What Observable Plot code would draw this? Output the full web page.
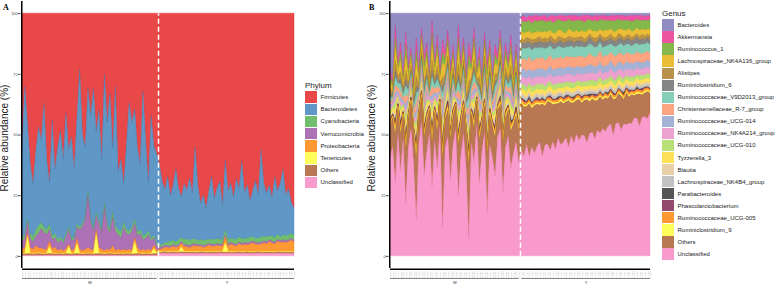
<!DOCTYPE html>
<html><head><meta charset="utf-8">
<script src="https://cdn.jsdelivr.net/npm/d3@7"></script>
<script src="https://cdn.jsdelivr.net/npm/@observablehq/plot@0.6"></script>
<style>
body{margin:0;background:#fff;font-family:"Liberation Sans",Arial,sans-serif;}
#wrap{position:relative;width:778px;height:285px;overflow:hidden;background:#fff;}
.abs{position:absolute;top:0;}
.ytitle{position:absolute;width:130px;text-align:center;line-height:10px;transform:rotate(-90deg);white-space:nowrap;font-size:10px;color:#1a1a1a;}
.plabel{position:absolute;font-family:"Liberation Serif","DejaVu Serif",serif;font-weight:bold;font-size:8px;line-height:9px;color:#000;}
.legend{position:absolute;}
.legend .ttl{font-size:8px;line-height:11px;color:#1a1a1a;}
.row{display:flex;align-items:center;}
.sw{width:12px;height:11.4px;margin-right:3.5px;flex:none;}
.lab{font-size:6px;color:#1a1a1a;white-space:nowrap;}
</style></head>
<body><div id="wrap"></div>
<script>
// ---------- Panel A: Phylum ----------
const phyla = ["Firmicutes","Bacteroidetes","Cyanobacteria","Verrucomicrobia","Proteobacteria","Tenericutes","Others","Unclassified"];
const phylaColors = ["#E41A1C","#377EB8","#4DAF4A","#984EA3","#FF7F00","#FFFF33","#A65628","#F781BF"];

const firmicutes = [55,30,45,62,70,58,47,52,37,60, 70,44,65,55,48,60,41,56,51,64, 43,23,50,55,31,42,31,48,40,60, 25,45,33,56,30,65,60,70,54,37, 45,39,55,62,32,52,70,42,55,58,
  62,69,73,67,75,71,64,72,76,70, 73,68,74,55,71,78,75,80,73,67, 76,72,69,75,63,73,70,76,68,72, 61,74,71,77,73,69,75,56,70,74, 71,76,67,73,70,64,75,72,78,80];
const bacteroidetes = [38,61,39,29,22,33,41,34,51,29, 17,48,27,38,44,34,50,32,42,28, 44,65,37,29,43,43,58,33,46,29, 53,42,56,27,58,24,30,16,35,53, 43,45,35,27,60,39,20,51,37,37,
  33,26,22,27,19,23,30,21,17,23, 20,26,19,38,23,15,19,13,20,26, 17,21,24,14,30,20,23,17,25,20, 32,19,22,15,19,24,18,36,22,18, 21,16,25,18,22,27,17,19,13,11];
const cyanobacteria = [1.5,1.5,1,2,2,2.5,3,2.5,2,2, 2,1.5,1.5,1.5,1,1,1,1,1,1, 1,1,1,1,1,1,1,1,1,1, 1.5,1.5,1.5,2,2,2,2.5,2,1.5,1.5, 1.5,1.5,1.5,1.5,1.5,1.5,1.5,1,1,1,
  1,1,1,1.5,2,1.5,1.5,2,1.5,2, 2.5,2,2,2,1.5,2,2,2,1.5,2, 2,2,2,1.5,2,2,1.5,2,2,2, 2,1.5,2,2,2,1.5,2,2,2,2, 1.5,2,2,2,1.5,2,2,2,2,2];
const verrucomicrobia = [3,4,5,4,3,4,6,8,7,6, 5,4,4,3,4,3,5,6,4,4, 5,8,10,12,22,11,8,6,10,7, 18,9,7,12,8,6,5,9,7,6, 8,6,5,7,4,5,6,4,3,2,
  1,.8,.8,.8,.7,.8,.9,.8,.8,.7, .8,.8,.9,.8,.8,.7,.8,.8,.8,.9, .8,.7,.8,.8,.8,.9,.8,.8,.7,.8, .8,.8,.9,.8,.7,.8,.8,.8,.8,.9, .8,.8,.7,.8,.8,.8,.9,.8,.8,.7];
const proteobacteria = [1.5,2,1,2,1.5,3,2,2,1.5,1.5, 2,1.5,2.5,1,1.5,1,1.5,1,1,1.5, 2,1.5,1,1.5,2,1.5,1,1.5,2,1.5, 1,1.5,1,3,1,1.5,1,1.5,1,1.5, 1,1.5,2,1,1.5,1,1.5,1,1.5,1,
  1,1,1.5,1.5,1.5,2,1.5,2,1.5,2, 2,1.5,2,2.5,2,2,1.5,2,2.5,2, 2,2.5,2,2,2.5,2,3,2.5,2,3, 2.5,3,2.5,3,3.5,3,2.5,3,3.5,3, 4,3.5,3,4,3.5,4,3.5,4,4.5,4];
const tenericutes = [.3,.3,7,.3,.3,.3,.3,.3,.3,.3, 3,.3,.3,.3,.3,.3,.3,3,.3,.3, 4,.3,.3,.3,.3,.3,.3,8,.3,.3, .3,.3,.3,.3,.3,.3,.3,.3,.3,.3, .3,5,.3,.3,.3,.3,.3,.3,2,.3,
  .3,.3,.3,.3,.3,.3,.3,.3,2,.3, .3,.3,.3,.3,.3,.3,.3,.3,.3,.3, .3,.3,.3,.3,4,.3,.3,.3,.3,.3, .3,.3,.3,.3,.3,.3,.3,.3,.3,.3, .3,.3,.3,.3,.3,.3,.3,.3,.3,.3];
const othersA = [.6,.5,.7,.6,.5,.6,.7,.6,.5,.6, .7,.6,.5,.6,.6,.5,.7,.6,.5,.6, .7,.6,.5,.6,.7,.6,.5,.6,.7,.6, .5,.6,.7,.6,.5,.6,.6,.5,.7,.6, .5,.6,.7,.6,.5,.6,.6,.5,.7,.6,
  .5,.5,.6,.5,.5,.6,.5,.5,.5,.6, .5,.5,.6,.5,.5,.5,.6,.5,.5,.5, .6,.5,.5,.5,.6,.5,.5,.5,.6,.5, .5,.5,.6,.5,.5,.5,.6,.5,.5,.5, .6,.5,.5,.5,.6,.5,.5,.5,.6,.5];
const unclassifiedA = [.3,.3,.3,.3,.3,.3,.3,.3,.3,.3, .3,.3,.3,.3,.3,.3,.3,.3,.3,.3, .3,.3,.3,.3,.3,.3,.3,.3,.3,.3, .3,.3,.3,.3,.3,.3,.3,.3,.3,.3, .3,.3,.3,.3,.3,.3,.3,.3,.3,.3,
  1,1,1.2,1,1,1.1,1,1,1.2,1, 1,1.1,1,1,1,1.2,1,1,1.1,1, 1,1,1.2,1,1,1.1,1,1,1,1.2, 1,1,1.1,1,1,1,1.2,1,1,1.1, 1,1,1,1.2,1,1,1.1,1,1,1];

// ---------- Panel B: Genus ----------
const genera = ["Bacteroides","Akkermansia","Ruminococcus_1","Lachnospiraceae_NK4A136_group","Alistipes","Ruminiclostridium_6","Ruminococcaceae_V9D2013_group","Christensenellaceae_R-7_group","Ruminococcaceae_UCG-014","Ruminococcaceae_NK4A214_group","Ruminococcaceae_UCG-010","Tyzzerella_3","Blautia","Lachnospiraceae_NK4B4_group","Parabacteroides","Phascolarctobacterium","Ruminococcaceae_UCG-005","Ruminiclostridium_9","Others","Unclassified"];
const generaColors = ["#7570B3","#E7298A","#66A61E","#E6AB02","#A6761D","#666666","#66C2A5","#FC8D62","#8DA0CB","#E78AC3","#A6D854","#FFD92F","#E5C494","#B3B3B3","#2B2B2B","#7A1E48","#FF7F00","#FFFF33","#A65628","#F781BF"];

const bacteroides = [23,28,5,20,12,26,8,22,14,30, 10,24,6,18,12,27,3,20,9,25, 11,16,7,23,13,28,5,21,10,26, 12,19,6,24,14,28,8,21,11,26, 13,17,7,24,12,20,9,25,13,27,
  1.5,1,2,1,1.5,1,1,1.5,1,1, 2,1,1,1.5,1,1,1,1.5,1,1, 1,1,1.5,1,1,1,1,1.5,1,1, 1,1,1,1.5,1,1,1,1,1,1, 1.5,1,1,1,1,1,1,1.5,1,1];
const akkermansia = [2.5,1.5,5,2,4,1.5,5,2,2.5,2, 5,2,3,3.5,3,1.5,5,2,4,1, 5,3,3.5,3,3,1,5,2.5,3,2.5, 5,2.5,4,1,4,2,3,4,3,2, 4,2.5,3,3,3,2,4,2,3,2,
  2,2.5,1.5,2,3,2,2.5,1.5,2,2.5, 1.5,2,3,2,1.5,2,2.5,2,1.5,2, 2.5,2,1.5,2,3,2,1.5,2,2,2.5, 1.5,2,2,1.5,2,2.5,2,1.5,2,2, 1.5,2,2.5,2,1.5,2,2,1.5,2,1.5];
const ruminococcus1 = [2,1.5,4,1.5,3.5,1.5,4.5,2,2,1.5, 4.5,1.5,2.5,3,3,1,4.5,2,3.5,1, 4.5,2.5,3,2.5,2.5,1,4.5,2,2.5,2, 4.5,2,4,1,3.5,1.5,3,3.5,3,2, 3.5,2,3,2.5,3,2,3.5,2,2.5,2,
  4,5,4,4.5,4,5,4,4.5,5,4, 4.5,4,4,5,4.5,4,4.5,5,4,4, 4.5,4,5,4,4,4.5,4,4,4.5,4, 4,4.5,4,4,3.5,4,4.5,4,3.5,4, 4,3.5,4,4,3.5,4,3.5,4,3.5,4];
const lachnoNK4A136 = [3,2,5.5,2.5,4.5,2,6,2.5,3,2.5, 6,2,3.5,4,4,1.5,6,2.5,5,1.5, 6,3.5,4,3.5,3.5,1,6,3,3.5,3, 6,3,5,1.5,4.5,2,3.5,4.5,4,2.5, 4.5,3,3.5,3.5,4,2.5,5,2.5,3.5,2.5,
  2.5,3,2,3,2.5,3,2.5,2,3,2.5, 3,2.5,2,3,2.5,3,2.5,2,3,2.5, 2.5,3,2,2.5,3,2.5,2,2.5,3,2.5, 2,2.5,3,2.5,2,2.5,2.5,2,2.5,3, 2,2.5,2.5,2,2.5,2.5,2,2.5,2,2.5];
const alistipes = [2.5,1,4,2,3,1.5,4,2,2,2, 4.5,1.5,2.5,3,3,1,4.5,2,3.5,1, 4,2.5,3,2.5,3,1,4.5,2,2.5,2, 4.5,2,3.5,1,3.5,1.5,3,3.5,3,2, 3.5,2,3,2.5,3,2,3.5,2,2.5,2,
  2,1.5,2,1.5,2,1.5,2,2,1.5,2, 1.5,2,2,1.5,2,1.5,2,1.5,2,1.5, 2,1.5,1.5,2,1.5,2,1.5,1.5,2,1.5, 1.5,2,1.5,1.5,2,1.5,1.5,2,1.5,1.5, 1.5,2,1.5,1.5,1.5,1.5,2,1.5,1.5,1.5];
const ruminiclost6 = [1,1,2.5,1,2,1,2.5,1,1,1, 2.5,1,1.5,1.5,1.5,.5,2.5,1,2,.5, 2.5,1.5,1.5,1.5,1.5,.5,2.5,1,1.5,1, 2.5,1,2,.5,2,1,1.5,2,1.5,1, 2,1,1.5,1.5,1.5,1,2,1,1.5,1,
  2.5,2,2.5,2,2.5,2,2,2.5,2,2.5, 2,2,2.5,2,2,2.5,2,2,2.5,2, 2,2,2.5,2,2,2,2.5,2,2,2, 2,2.5,2,2,2,2,2,2.5,2,2, 2,2,2,2,2.5,2,2,2,2,2];
const v9d2013 = [2,1,3.5,1.5,3,1.5,4,2,2,1.5, 4,1.5,2.5,2.5,2.5,1,4,1.5,3,1, 4,2,2.5,2.5,2.5,1,4,2,2.5,2, 4,2,3.5,1,3,1.5,2.5,3,2.5,1.5, 3,2,2.5,2.5,2.5,1.5,3,1.5,2.5,2,
  4.5,4,5,4,4.5,5,4,4.5,4,5, 4.5,4,4.5,4,5,4,4.5,4,4,4.5, 4,4.5,4,4,4.5,4,4,4.5,4,4, 3.5,4,4,4,3.5,4,4,3.5,4,4, 3.5,4,3.5,4,3.5,3.5,4,3.5,3.5,3.5];
const christensenR7 = [1.5,1,3,1.5,2.5,1,3.5,1.5,1.5,1.5, 3.5,1.5,2,2.5,2.5,1,3.5,1.5,3,1, 3.5,2,2.5,2,2,.5,3.5,2,2,1.5, 3.5,1.5,3,1,2.5,1,2,2.5,2,1.5, 2.5,1.5,2,2,2,1.5,3,1.5,2,1.5,
  4,4.5,4,5,4,4.5,4.5,4,5,4, 4.5,4.5,4,4.5,4,4.5,4,4.5,4,4, 4.5,4,4,4.5,4,4,4.5,4,4,4, 4.5,4,4,4,3.5,4,4,3.5,4,4, 3.5,4,3.5,3.5,4,3.5,3.5,4,3.5,3.5];
const ucg014 = [1,.5,2,1,2,1,2.5,1,1,1, 2.5,1,1.5,1.5,1.5,.5,2.5,1,2,.5, 2.5,1.5,1.5,1.5,1.5,.5,2.5,1.5,1.5,1, 2.5,1,2,.5,2,1,1.5,2,1.5,1, 2,1,1.5,1.5,1.5,1,2,1,1.5,1,
  3,3.5,3,3,3.5,3,3,3.5,3,3, 3,3.5,3,3,3,3.5,3,3,3,3, 3.5,3,3,3,3,3,3.5,3,3,3, 3,3,2.5,3,3,3,2.5,3,3,2.5, 3,3,2.5,3,2.5,3,2.5,2.5,3,2.5];
const nk4a214 = [1.5,1,2,1,2,.5,2.5,1,1,1, 2.5,1,1.5,1.5,2,.5,2.5,1,2,.5, 2.5,1.5,1.5,1.5,1.5,.5,2.5,1,1.5,1, 2.5,1,2,.5,2,1,1.5,2,1.5,1, 2,1,1.5,1.5,1.5,1,2,1,1.5,1,
  3,3,3.5,3,3,3.5,3,3,3,3.5, 3,3,3,3.5,3,3,3,3,3.5,3, 3,3,3,3,3,3.5,3,3,3,3, 3,3,3,2.5,3,3,3,2.5,3,3, 2.5,3,3,2.5,3,2.5,2.5,3,2.5,2.5];
const ucg010 = [1,1,2.5,1,2,1,2.5,1,1.5,1, 2.5,1,1.5,2,1.5,.5,2.5,1,2,.5, 2.5,1.5,2,1.5,1.5,.5,2.5,1,1.5,1, 2.5,1,2,.5,2,1,1.5,2,1.5,1, 2,1,1.5,1.5,1.5,1,2,1,1.5,1,
  2,2.5,2,2,2.5,2,2,2,2.5,2, 2,2,2,2.5,2,2,2,2,2,2.5, 2,2,2,2,2,2,2,2.5,2,2, 2,2,2,2,2,2,2,2,2,2, 1.5,2,2,2,1.5,2,2,1.5,2,2];
const tyzzerella3 = [1.5,1,2.5,1,2.5,1,3,1.5,1.5,1, 3,1,2,2,2,1,3,1.5,2.5,1, 3,1.5,2,2,2,.5,3,1.5,2,1.5, 3,1.5,2.5,1,2.5,1,2,2,2,1.5, 2.5,1.5,2,2,2,1,2.5,1.5,2,1.5,
  1.5,2,1.5,1.5,2,1.5,1.5,2,1.5,1.5, 1.5,2,1.5,1.5,1.5,1.5,2,1.5,1.5,1.5, 1.5,1.5,1.5,2,1.5,1.5,1.5,1.5,1.5,1.5, 2,1.5,1.5,1.5,1.5,1.5,1.5,1.5,1.5,1.5, 1.5,1.5,1.5,1.5,1.5,1.5,1.5,1.5,1.5,1.5];
const blautia = [.7,.5,1.4,.6,1.1,.5,1.4,.7,.7,.6, 1.5,.5,.9,1,1,.4,1.5,.6,1.2,.4, 1.5,.8,1,.9,.9,.3,1.5,.8,.9,.7, 1.5,.7,1.3,.4,1.1,.5,.9,1.1,1,.6, 1.1,.7,.9,.9,1,.6,1.2,.6,.9,.7,
  1,1.2,.9,1,1.1,1,.9,1.2,1,1, 1.1,.9,1,1.2,1,.9,1,1.1,1,1, .9,1.1,1,1,1.2,1,.9,1,1,1.1, 1,1,.9,1,1.1,1,1,.9,1,1, 1.1,1,.9,1,1,1,.9,1,1,1];
const nk4b4 = [.7,.4,1.3,.6,1.2,.5,1.5,.6,.7,.6, 1.4,.6,.9,1,1,.4,1.6,.7,1.2,.4, 1.4,.8,1,.9,.9,.3,1.5,.7,.9,.7, 1.6,.7,1.3,.4,1.1,.5,.9,1.1,1,.6, 1.2,.7,.9,.9,1,.6,1.2,.6,.9,.7,
  1,.9,1.1,1,1,1.2,1,.9,1,1.1, 1,1,1.2,.9,1,1,1.1,1,.9,1, 1,1,1.1,.9,1,1,1.1,1,.9,1, 1,1.1,1,.9,1,1,1,1.1,.9,1, 1,1,1,.9,1,1,1,.9,1,1];
const parabacteroides = [.2,.2,1.5,.2,.2,.2,1.8,.2,.2,.2, .2,.2,.2,1.2,.2,.2,1.5,.2,.2,.2, 2,.2,.2,.2,.2,.2,1.5,.2,.2,.2, .2,.2,1.5,.2,.2,.2,.2,1.8,.2,.2, .2,.2,1.2,.2,.2,.2,1.5,.2,.2,.2,
  .2,.2,.2,1,.2,.2,.2,.2,.8,.2, .2,.2,.2,.2,1,.2,.2,.2,.2,.2, .8,.2,.2,.2,.2,.2,1,.2,.2,.2, .2,.2,.2,.8,.2,.2,.2,.2,.2,1, .2,.2,.2,.2,.8,.2,.2,.2,.2,.2];
const phascolarcto = [.2,.2,.2,.2,1.5,.2,.2,.2,.2,.2, 1.8,.2,.2,.2,.2,.2,.2,.2,1.5,.2, .2,.2,1.2,.2,.2,.2,.2,.2,.2,.2, 2,.2,.2,.2,1.5,.2,.2,.2,.2,.2, 1.5,.2,.2,.2,.2,.2,.2,.2,1.2,.2,
  .2,.8,.2,.2,.2,.2,1,.2,.2,.2, .2,.8,.2,.2,.2,.2,.2,1,.2,.2, .2,.2,.2,.8,.2,.2,.2,.2,1,.2, .2,.2,.2,.2,.2,.8,.2,.2,.2,.2, .2,1,.2,.2,.2,.2,.8,.2,.2,.2];
const ucg005 = [1,.6,1.8,.8,1.5,.6,1.9,.9,.9,.8, 2,.7,1.2,1.3,1.3,.5,2,.8,1.6,.5, 2,1.1,1.3,1.2,1.2,.4,2,1,1.2,1, 2,.9,1.7,.5,1.5,.7,1.2,1.5,1.3,.8, 1.5,1,1.2,1.2,1.3,.8,1.6,.8,1.2,.9,
  1,1.3,.9,1.1,1,1.4,.9,1,1.2,1, .9,1.3,1,1,1.1,.9,1.2,1,1,1.3, .9,1,1.1,1,1.2,.9,1,1.1,1,1, 1.3,.9,1,1,1.2,1,.9,1.1,1,1, 1.2,1,.9,1,1.1,1,1,1.2,.9,1];
const ruminiclost9 = [.7,.5,1.4,.6,1.1,.5,1.4,.7,.7,.6, 1.5,.5,.9,1,1,.4,1.5,.6,1.2,.4, 1.5,.8,1,.9,.9,.3,1.5,.8,.9,.7, 1.5,.7,1.3,.4,1.1,.5,.9,1.1,1,.6, 1.1,.7,.9,.9,1,.6,1.2,.6,.9,.7,
  .6,.8,.5,.6,.9,.5,.6,.7,.5,.8, .6,.5,.7,.6,.5,.9,.6,.5,.7,.6, .5,.8,.6,.5,.7,.6,.9,.5,.6,.7, .5,.6,.8,.5,.6,.7,.5,.6,.8,.6, .5,.7,.6,.5,.8,.6,.5,.7,.6,.5];
const othersB = [13,12,20,11,15,10,22,12,11,13, 25,12,10,16,13,10,18,12,15,10, 28,12,11,17,12,10,20,13,11,15, 30,12,14,10,18,12,11,24,12,13, 16,11,10,20,12,11,15,12,11,13,
  19,21,15,22,16,20,17,15,22,16, 18,20,15,19,14,18,16,15,19,13, 17,14,17,13,15,18,13,14,16,12, 15,12,14,11,12,15,10,12,14,10, 13,11,12,9,10,13,9,10,11,8];
const unclassifiedB = [40,45,30,50,35,48,22,44,52,38, 15,46,55,33,42,50,28,47,36,53, 12,44,49,31,45,52,25,41,50,35, 7,46,38,54,30,43,50,18,45,40, 33,48,52,26,44,49,36,42,47,38,
  43,42,44,41,45,43,44,46,42,45, 47,44,46,45,48,46,47,49,45,48, 47,50,48,49,51,47,50,52,49,51, 50,53,51,52,54,50,53,55,52,54, 53,56,54,55,57,53,56,58,56,57];

const groupLabels = ["W","Y"];
const groupSizes = [50, 50];

const seriesA = [firmicutes,bacteroidetes,cyanobacteria,verrucomicrobia,proteobacteria,tenericutes,othersA,unclassifiedA];
const seriesB = [bacteroides,akkermansia,ruminococcus1,lachnoNK4A136,alistipes,ruminiclost6,v9d2013,christensenR7,ucg014,nk4a214,ucg010,tyzzerella3,blautia,nk4b4,parabacteroides,phascolarcto,ucg005,ruminiclost9,othersB,unclassifiedB];

const sampleNames = [];
groupLabels.forEach((g,k)=>{for(let j=1;j<=groupSizes[k];j++) sampleNames.push(g+"_"+String(j).padStart(3,"0"));});

function panel(taxa, colors, series, opts){
  const n = sampleNames.length;
  const bad = series.map((s,k)=>s.length!==n?taxa[k]+":"+s.length:null).filter(Boolean);
  if (bad.length) { const d=document.createElement("div"); d.textContent="LEN "+bad.join(","); return d; }
  const data = [];
  taxa.forEach((t,k)=>series[k].forEach((v,i)=>data.push({i, taxon:t, v})));
  const order = taxa.slice().reverse();
  const groups = []; let s = 0;
  groupLabels.forEach((g,k)=>{groups.push({g, start:s, end:s+groupSizes[k]-1}); s+=groupSizes[k];});
  const ymin = -0.05;
  return Plot.plot({
    width: opts.width, height: 285,
    marginLeft: opts.marginLeft, marginRight: opts.marginRight, marginTop: 1, marginBottom: 17,
    style: {fontFamily: "Liberation Sans, Arial, sans-serif", background: "transparent", overflow: "visible"},
    x: {domain: [0, n-1], axis: null},
    y: {domain: [ymin, 1.05], axis: null},
    color: {domain: taxa, range: colors},
    marks: [
      Plot.areaY(data, {x: "i", y: "v", z: "taxon", fill: "taxon", stroke: "taxon", order, offset: "normalize",
        fillOpacity: 0.8, strokeOpacity: 0.55, strokeWidth: 0.6}),
      Plot.ruleX([groupSizes[0] - 0.5], {y1: 0, y2: 1, stroke: "white", strokeWidth: 1.5, strokeDasharray: "5,3"}),
      Plot.ruleX([0], {stroke: "black", strokeWidth: 1.5, dx: -0.75}),
      Plot.ruleY([ymin], {stroke: "black", strokeWidth: 1.5, dy: 0.75}),
      Plot.axisY({ticks: [0, .25, .5, .75, 1], tickFormat: d => Math.round(d*100), tickSize: 2.5, tickPadding: 1,
        fontSize: 3.8, dx: -1.5, color: "#444", label: null}),
      Plot.axisX({ticks: d3.range(n), tickFormat: i => sampleNames[i], tickRotate: -90, tickSize: 0, tickPadding: 3,
        fontSize: 2.2, color: "#999", label: null}),
      Plot.ruleY(groups, {y: () => ymin, x1: "start", x2: "end", dy: 10, stroke: "#555", strokeWidth: 0.7}),
      Plot.text(groups, {x: d => (d.start + d.end)/2, y: () => ymin, text: "g", dy: 14.5, fontSize: 4, fill: "#333"})
    ]
  });
}

const wrap = document.getElementById("wrap");
function place(el, left){ const d=document.createElement("div"); d.className="abs"; d.style.left=left+"px"; d.appendChild(el); wrap.appendChild(d); }
place(panel(phyla, phylaColors, seriesA, {width: 300, marginLeft: 22, marginRight: 6}), 0);
place(panel(genera, generaColors, seriesB, {width: 284, marginLeft: 22, marginRight: 2}), 368);

function ytitle(cx){ const d=document.createElement("div"); d.className="ytitle"; d.textContent="Relative abundance (%)"; d.style.left=(cx-65)+"px"; d.style.top=(138-5)+"px"; wrap.appendChild(d); }
ytitle(5); ytitle(372);
function plabel(t,x){ const d=document.createElement("div"); d.className="plabel"; d.textContent=t; d.style.left=x+"px"; d.style.top="3px"; wrap.appendChild(d); }
plabel("A",3); plabel("B",369);

function legend(title, taxa, colors, left, top, rowH){
  const L=document.createElement("div"); L.className="legend"; L.style.left=left+"px"; L.style.top=top+"px";
  const t=document.createElement("div"); t.className="ttl"; t.textContent=title; L.appendChild(t);
  taxa.forEach((tx,k)=>{ const r=document.createElement("div"); r.className="row"; r.style.height=rowH+"px";
    const sw=document.createElement("div"); sw.className="sw"; sw.style.background=colors[k]; sw.style.opacity=0.8;
    const lb=document.createElement("div"); lb.className="lab"; lb.textContent=tx;
    r.appendChild(sw); r.appendChild(lb); L.appendChild(r); });
  wrap.appendChild(L);
}
legend("Phylum", phyla, phylaColors, 305, 80, 12.2);
legend("Genus", genera, generaColors, 662, 8, 12.05);
</script></body></html>
